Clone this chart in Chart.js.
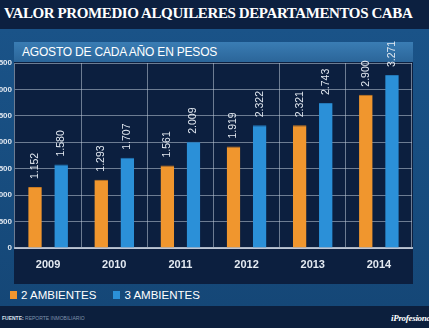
<!DOCTYPE html>
<html>
<head>
<meta charset="utf-8">
<script src="https://cdn.jsdelivr.net/npm/chart.js@4.4.1/dist/chart.umd.min.js"></script>
<style>
  html, body { margin: 0; padding: 0; }
  body { width: 429px; height: 328px; overflow: hidden; position: relative; background: #174a7b; font-family: "Liberation Sans", Arial, sans-serif; }
  #top { position: absolute; left: 0; top: 0; width: 429px; height: 29px; background: #0c2040; }
  #title { position: absolute; left: 4px; top: 5px; font-family: "Liberation Serif", "Times New Roman", serif; font-weight: bold; font-size: 15px; color: #fff; white-space: nowrap; letter-spacing: -0.4px; }
  #mid { position: absolute; left: 0; top: 29px; width: 429px; height: 277px; background: linear-gradient(#1a5388, #154777); }
  #panel { position: absolute; left: 14px; top: 42px; width: 399px; height: 242px; background: #0c1f3f; }
  #bar { position: absolute; left: 14px; top: 42px; width: 399px; height: 20px; background: linear-gradient(#3a7db4, #2b6599); }
  #sub { position: absolute; left: 22px; top: 45px; color: #fff; font-size: 12px; white-space: nowrap; letter-spacing: -0.2px; }
  #foot { position: absolute; left: 0; top: 306px; width: 429px; height: 22px; background: #0c1f3d; }
  #src { position: absolute; left: 2px; top: 315px; font-size: 5px; color: #7f93ad; white-space: nowrap; }
  #src b { color: #dbe3ee; }
  #brand { position: absolute; left: 391px; top: 313px; font-family: "Liberation Serif", serif; font-style: italic; font-weight: bold; font-size: 9px; color: #fff; white-space: nowrap; letter-spacing: -0.3px; }
  #legend { position: absolute; left: 10px; top: 289px; color: #fff; font-size: 11.5px; white-space: nowrap; }
  #legend span.sw { display: inline-block; width: 7px; height: 8px; margin-right: 4px; vertical-align: -0px; }
  #wrap { position: absolute; left: -20px; top: 30px; width: 449px; height: 260px; }
</style>
</head>
<body>
<div id="top"></div>
<div id="title">VALOR PROMEDIO ALQUILERES DEPARTAMENTOS CABA</div>
<div id="mid"></div>
<div id="panel"></div>
<div id="bar"></div>
<div id="sub">AGOSTO DE CADA AÑO EN PESOS</div>
<div id="legend"><span class="sw" style="background:#f0962e"></span>2 AMBIENTES<span class="sw" style="background:#2b90d8;margin-left:17px"></span>3 AMBIENTES</div>
<div id="foot"></div>
<div id="src"><b>FUENTE:</b> REPORTE INMOBILIARIO</div>
<div id="brand">iProfesional</div>
<div id="wrap"><canvas id="c"></canvas></div>
<script>
const years = ["2009", "2010", "2011", "2012", "2013", "2014"];
const dosAmbientes = [1152, 1293, 1561, 1919, 2321, 2900];
const tresAmbientes = [1580, 1707, 2009, 2322, 2743, 3271];
const seriesNames = ["2 AMBIENTES", "3 AMBIENTES"];

const fmt = (v) => String(v).replace(/\B(?=(\d{3})+(?!\d))/g, ".");

// rotated value labels above each bar
const valueLabels = {
  id: "valueLabels",
  afterDatasetsDraw(chart) {
    const ctx = chart.ctx;
    ctx.save();
    ctx.fillStyle = "#e3e9f1";
    ctx.font = "10.5px 'Liberation Sans', Arial, sans-serif";
    ctx.textAlign = "left";
    ctx.textBaseline = "middle";
    chart.data.datasets.forEach((ds, i) => {
      chart.getDatasetMeta(i).data.forEach((bar, j) => {
        ctx.save();
        ctx.translate(bar.x, bar.y - 8);
        ctx.rotate(-Math.PI / 2);
        ctx.fillText(fmt(ds.data[j]), 0, 0);
        ctx.restore();
      });
    });
    ctx.restore();
  },
};

new Chart(document.getElementById("c"), {
  type: "bar",
  data: {
    labels: years,
    datasets: [
      { label: seriesNames[0], data: dosAmbientes, backgroundColor: "#f0962e", borderColor: "#c97a22", borderWidth: { top: 1 } },
      { label: seriesNames[1], data: tresAmbientes, backgroundColor: "#2b90d8", borderColor: "#2378b8", borderWidth: { top: 1 } },
    ],
  },
  options: {
    responsive: true,
    maintainAspectRatio: false,
    animation: false,
    categoryPercentage: 0.79,
    barPercentage: 0.52,
    layout: { padding: { top: 33, right: 17, bottom: 12, left: 0 } },
    plugins: { legend: { display: false }, tooltip: { enabled: false } },
    scales: {
      x: {
        grid: { color: "rgba(190,200,215,0.55)", drawTicks: false, offset: true },
        border: { color: "rgba(210,218,230,0.8)", width: 2 },
        ticks: { color: "#e4eaf2", font: { size: 11, weight: "bold" }, padding: 10 },
        afterFit(s) { s.height = 30; },
      },
      y: {
        min: 0,
        max: 3500,
        grid: { color: "rgba(190,200,215,0.55)", drawTicks: false },
        border: { display: false },
        ticks: { stepSize: 500, color: "#dfe6ef", font: { size: 8, weight: "bold" }, padding: 3 },
        afterFit(s) { s.width = 35; },
      },
    },
  },
  plugins: [valueLabels],
});
</script>
</body>
</html>
